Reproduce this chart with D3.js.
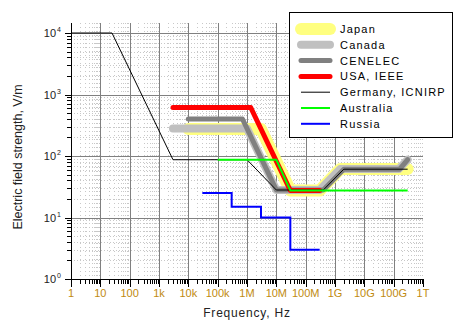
<!DOCTYPE html>
<html lang="en">
<head>
<meta charset="UTF-8">
<title>Electric field limits</title>
<script src="https://d3js.org/d3.v7.min.js"></script>
<style>
  body { margin: 0; background: #fff; }
  svg { display: block; font-family: "Liberation Sans", Arial, sans-serif; }
</style>
</head>
<body>
<svg></svg>
<script>
  // frequency (Hz), field strength (V/m)
  const japan = [[1e4, 275], [3e6, 275], [3e7, 27.5], [3e8, 27.5], [1.5e9, 61.4], [3e11, 61.4]]
  const canada = [[3e3, 280], [1e6, 280], [1e7, 28], [3e8, 28], [1.5e9, 61.4], [1.5e11, 61.4], [3e11, 87]]
  const cenelec = [[1e4, 400], [7e5, 400], [1e7, 28], [4e8, 28], [2e9, 61], [1.6e11, 61], [3e11, 87]]
  const usa = [[3e3, 614], [1.34e6, 614], [3e7, 27.5], [3e8, 27.5]]
  const germany = [[1, 1e4], [25, 1e4], [3e3, 87], [1e6, 87], [1e7, 28], [4e8, 28], [2e9, 61], [3e11, 61]]
  const australia = [[1e5, 87], [1e7, 87], [3e7, 27.5], [3e11, 27.5]]
  const russia = [[3e4, 25], [3e5, 25], [3e5, 15], [3e6, 15], [3e6, 10], [3e7, 10], [3e7, 3], [3e8, 3]]

  const seriesNames = ['Japan', 'Canada', 'CENELEC', 'USA, IEEE', 'Germany, ICNIRP', 'Australia', 'Russia']
  const xTickLabels = ['1', '10', '100', '1k', '10k', '100k', '1M', '10M', '100M', '1G', '10G', '100G', '1T']
  const yExponents = [0, 1, 2, 3, 4]

  const width = 466
  const height = 332

  // series draw style, in legend order (first one is drawn at the bottom)
  const series = [
    { name: seriesNames[0], data: japan, color: '#ffff80', w: 12 },
    { name: seriesNames[1], data: canada, color: '#c0c0c0', w: 8 },
    { name: seriesNames[2], data: cenelec, color: '#808080', w: 5 },
    { name: seriesNames[3], data: usa, color: '#ff0000', w: 5 },
    { name: seriesNames[4], data: germany, color: '#000000', w: 1 },
    { name: seriesNames[5], data: australia, color: '#00ff00', w: 2 },
    { name: seriesNames[6], data: russia, color: '#0000ff', w: 2 }
  ]

  const x = d3.scaleLog().domain([1, 1e12]).range([71, 423])
  const y = d3.scaleLog().domain([1, Math.pow(10, 256 / 61.5)]).range([279, 23])

  const svg = d3.select('svg')
    .attr('width', width)
    .attr('height', height)

  // minor grid (dotted), 2..9 inside every decade
  const minorX = []
  for (let e = 0; e < 12; e++) for (let k = 2; k <= 9; k++) minorX.push(k * Math.pow(10, e))
  const minorY = []
  for (let e = 0; e < 5; e++) for (let k = 2; k <= 9; k++) {
    const v = k * Math.pow(10, e)
    if (v < y.domain()[1]) minorY.push(v)
  }

  const grid = svg.append('g').attr('shape-rendering', 'crispEdges')
  grid.selectAll('.mx').data(minorX).join('line')
    .attr('x1', d => Math.round(x(d)) + 0.5).attr('x2', d => Math.round(x(d)) + 0.5)
    .attr('y1', 23).attr('y2', 279)
    .attr('stroke', '#c8c8c8').attr('stroke-dasharray', '1,3')
  grid.selectAll('.my').data(minorY).join('line')
    .attr('x1', 71).attr('x2', 423)
    .attr('y1', d => Math.round(y(d)) + 0.5).attr('y2', d => Math.round(y(d)) + 0.5)
    .attr('stroke', '#c8c8c8').attr('stroke-dasharray', '1,2')

  // major grid
  const majorX = d3.range(1, 12).map(e => Math.pow(10, e))
  const majorY = d3.range(1, 5).map(e => Math.pow(10, e))
  grid.selectAll('.gx').data(majorX).join('line')
    .attr('x1', d => Math.round(x(d)) + 0.5).attr('x2', d => Math.round(x(d)) + 0.5)
    .attr('y1', 23).attr('y2', 279)
    .attr('stroke', '#808080')
  grid.selectAll('.gy').data(majorY).join('line')
    .attr('x1', 71).attr('x2', 423)
    .attr('y1', d => Math.round(y(d)) + 0.5).attr('y2', d => Math.round(y(d)) + 0.5)
    .attr('stroke', '#808080')

  // the limit curves
  const line = d3.line().x(d => x(d[0])).y(d => y(d[1]))
  svg.append('g').selectAll('path').data(series).join('path')
    .attr('d', d => line(d.data))
    .attr('fill', 'none')
    .attr('stroke', d => d.color)
    .attr('stroke-width', d => d.w)
    .attr('stroke-linecap', d => d.w > 2 ? 'round' : 'butt')
    .attr('stroke-linejoin', d => d.w > 2 ? 'round' : 'miter')

  // axes
  const axes = svg.append('g').attr('shape-rendering', 'crispEdges')
  axes.append('line').attr('x1', 71.5).attr('x2', 71.5).attr('y1', 23).attr('y2', 280).attr('stroke', '#000')
  axes.append('line').attr('x1', 71).attr('x2', 424).attr('y1', 279.5).attr('y2', 279.5).attr('stroke', '#000')

  // x ticks go down
  const xMajor = d3.range(0, 13).map(e => Math.pow(10, e))
  axes.selectAll('.tx').data(xMajor).join('line')
    .attr('x1', d => Math.round(x(d)) + 0.5).attr('x2', d => Math.round(x(d)) + 0.5)
    .attr('y1', 280).attr('y2', 287).attr('stroke', '#000')
  axes.selectAll('.tmx').data(minorX).join('line')
    .attr('x1', d => Math.round(x(d)) + 0.5).attr('x2', d => Math.round(x(d)) + 0.5)
    .attr('y1', 280).attr('y2', 284).attr('stroke', '#000')

  // y ticks go left
  axes.selectAll('.ty').data(yExponents).join('line')
    .attr('x1', 65).attr('x2', 71)
    .attr('y1', d => Math.round(y(Math.pow(10, d))) + 0.5).attr('y2', d => Math.round(y(Math.pow(10, d))) + 0.5)
    .attr('stroke', '#000')
  axes.selectAll('.tmy').data(minorY).join('line')
    .attr('x1', 67).attr('x2', 71)
    .attr('y1', d => Math.round(y(d)) + 0.5).attr('y2', d => Math.round(y(d)) + 0.5)
    .attr('stroke', '#000')

  // tick labels
  svg.append('g').selectAll('text').data(xTickLabels).join('text')
    .attr('x', (d, i) => x(Math.pow(10, i)))
    .attr('y', 297)
    .attr('text-anchor', 'middle')
    .attr('font-size', 11)
    .attr('fill', '#c08a10')
    .text(d => d)

  const yl = svg.append('g').selectAll('text').data(yExponents).join('text')
    .attr('x', 61)
    .attr('y', d => y(Math.pow(10, d)) + 4)
    .attr('text-anchor', 'end')
    .attr('font-size', 11)
    .attr('fill', '#222')
  yl.append('tspan').text('10')
  yl.append('tspan').attr('dy', -5).attr('font-size', 7).attr('dx', 1).text(d => d)

  // axis titles
  svg.append('text')
    .attr('transform', 'translate(22,157) rotate(-90)')
    .attr('text-anchor', 'middle')
    .attr('font-size', 12.5)
    .attr('fill', '#222')
    .text('Electric field strength, V/m')

  svg.append('text')
    .attr('x', 247).attr('y', 317)
    .attr('text-anchor', 'middle')
    .attr('font-size', 12)
    .attr('letter-spacing', 0.8)
    .attr('fill', '#222')
    .text('Frequency, Hz')

  // legend
  const legend = svg.append('g')
  legend.append('rect')
    .attr('x', 289.5).attr('y', 12.5).attr('width', 163).attr('height', 125)
    .attr('fill', '#fff').attr('stroke', '#000')
  const item = legend.selectAll('g').data(series).join('g')
    .attr('transform', (d, i) => `translate(0,${29 + i * 15.8})`)
  item.append('line')
    .attr('x1', 301).attr('x2', 330)
    .attr('stroke', d => d.color)
    .attr('stroke-width', d => d.w)
    .attr('stroke-linecap', d => d.w > 2 ? 'round' : 'butt')
  item.append('text')
    .attr('x', 340).attr('y', 4)
    .attr('font-size', 11)
    .attr('letter-spacing', 1.2)
    .attr('fill', '#000')
    .text(d => d.name)
</script>
</body>
</html>
